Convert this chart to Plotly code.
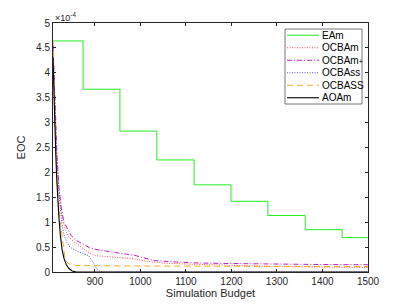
import plotly.graph_objects as go

# values in units of 1e-4
ea_x = [808, 874, 955, 1036, 1118, 1199, 1280, 1362, 1443, 1500]
ea_y = [4.64, 3.67, 2.83, 2.25, 1.75, 1.42, 1.135, 0.85, 0.69, 0.69]

ocbam_x = [808, 811, 814, 817, 821, 826, 831, 837, 845, 855, 870, 885, 900, 940, 980, 1010, 1050, 1100, 1200, 1300, 1400, 1500]
ocbam_y = [4.6, 3.6, 2.8, 2.2, 1.6, 1.2, 0.98, 0.8, 0.68, 0.6, 0.5, 0.4, 0.33, 0.3, 0.27, 0.22, 0.18, 0.16, 0.13, 0.11, 0.1, 0.09]

ocbamp_x = [808, 811, 814, 817, 821, 826, 832, 840, 848, 860, 875, 890, 910, 935, 960, 985, 1005, 1030, 1080, 1130, 1200, 1300, 1400, 1500]
ocbamp_y = [4.55, 3.7, 2.9, 2.3, 1.7, 1.3, 1.0, 0.85, 0.73, 0.63, 0.55, 0.48, 0.44, 0.4, 0.37, 0.34, 0.29, 0.23, 0.2, 0.18, 0.17, 0.155, 0.15, 0.145]

ocbass_x = [808, 810, 813, 816, 819, 823, 827, 832, 838, 845, 860, 875, 886, 892, 898, 904, 910, 918, 1500]
ocbass_y = [4.5, 3.7, 3.0, 2.3, 1.8, 1.4, 1.0, 0.75, 0.6, 0.5, 0.42, 0.37, 0.33, 0.25, 0.15, 0.07, 0.02, 0.0, 0.0]

ocbaSS_x = [808, 810, 812, 814, 816, 819, 822, 826, 830, 834, 838, 845, 860, 900, 1000, 1200, 1500]
ocbaSS_y = [4.63, 3.6, 2.95, 2.45, 2.0, 1.5, 1.15, 0.85, 0.5, 0.3, 0.2, 0.15, 0.13, 0.125, 0.12, 0.115, 0.11]

aoam_x = [808, 810, 812, 814, 816, 818, 821, 824, 828, 832, 837, 843, 850, 858, 870, 1500]
aoam_y = [4.3, 3.5, 2.9, 2.4, 1.9, 1.5, 1.1, 0.75, 0.45, 0.28, 0.15, 0.07, 0.02, 0.003, 0.0, 0.0]

names = ["EAm", "OCBAm", "OCBAm<span style='font-size:7px'>+</span>", "OCBAss", "OCBASS", "AOAm"]
colors = ["#22ee22", "#ff5050", "#c020c0", "#5050ff", "#EDB120", "#000000"]
dashes = ["solid", "1px,1.5px", "5px,2px,1px,2px", "1px,1.5px", "6px,4px", "solid"]
widths = [1, 1, 1, 1, 1, 1.1]
xs = [ea_x, ocbam_x, ocbamp_x, ocbass_x, ocbaSS_x, aoam_x]
ys = [ea_y, ocbam_y, ocbamp_y, ocbass_y, ocbaSS_y, aoam_y]

fig = go.Figure()
for i in range(6):
    fig.add_trace(go.Scatter(
        x=xs[i], y=ys[i], mode="lines", name=names[i],
        line=dict(color=colors[i], width=widths[i], dash=dashes[i],
                  shape="hv" if i == 0 else "linear"),
        showlegend=False))

axcol = "#262626"
# page has an 8px body margin: figure drawn at (8, 8)
fig.update_layout(
    width=399, height=297,
    margin=dict(l=45, r=39, t=15, b=33),
    paper_bgcolor="white", plot_bgcolor="white",
    font=dict(family="Liberation Sans, Arial, sans-serif", size=10, color=axcol),
    xaxis=dict(range=[808, 1500], tickvals=[900, 1000, 1100, 1200, 1300, 1400, 1500],
               ticks="inside", ticklen=3, tickcolor=axcol, showline=True, linecolor=axcol,
               linewidth=1, mirror="ticks", showgrid=False, zeroline=False, automargin=False,
               title=dict(text="Simulation Budget", font=dict(size=11), standoff=2)),
    yaxis=dict(range=[0, 5], tickvals=[0, 0.5, 1, 1.5, 2, 2.5, 3, 3.5, 4, 4.5, 5],
               ticktext=["0", "0.5", "1", "1.5", "2", "2.5", "3", "3.5", "4", "4.5", "5"],
               ticks="inside", ticklen=3, tickcolor=axcol, showline=True, linecolor=axcol,
               linewidth=1, mirror="ticks", showgrid=False, zeroline=False, automargin=False,
               title=dict(text="EOC", font=dict(size=11), standoff=8)),
)

fig.add_annotation(xref="paper", yref="paper", x=0, y=1, xanchor="left", yanchor="bottom",
                   text="\u00d710<sup>-4</sup>", showarrow=False, font=dict(size=9, color=axcol),
                   yshift=-2)

# manual legend (paper coords; plot area spans page x 53..368, y 23..272)
lx0, lx1 = (285 - 53) / 315, (362 - 53) / 315
ly_top, ly_bot = (272 - 29) / 249, (272 - 104) / 249
fig.add_shape(type="rect", xref="paper", yref="paper", x0=lx0, x1=lx1, y0=ly_bot, y1=ly_top,
              line=dict(color="#555555", width=0.8), fillcolor="white", layer="above")
row_h = (ly_top - ly_bot) / 6
for i in range(6):
    yc = ly_top - row_h * (i + 0.5)
    fig.add_shape(type="line", xref="paper", yref="paper",
                  x0=(287 - 53) / 315, x1=(319 - 53) / 315, y0=yc, y1=yc,
                  line=dict(color=colors[i], width=widths[i], dash=dashes[i]), layer="above")
    fig.add_annotation(xref="paper", yref="paper", x=(319.5 - 53) / 315, y=yc,
                       xanchor="left", yanchor="middle", text=names[i], showarrow=False,
                       font=dict(size=10, color="#000000"))

fig.write_html("out.html")
